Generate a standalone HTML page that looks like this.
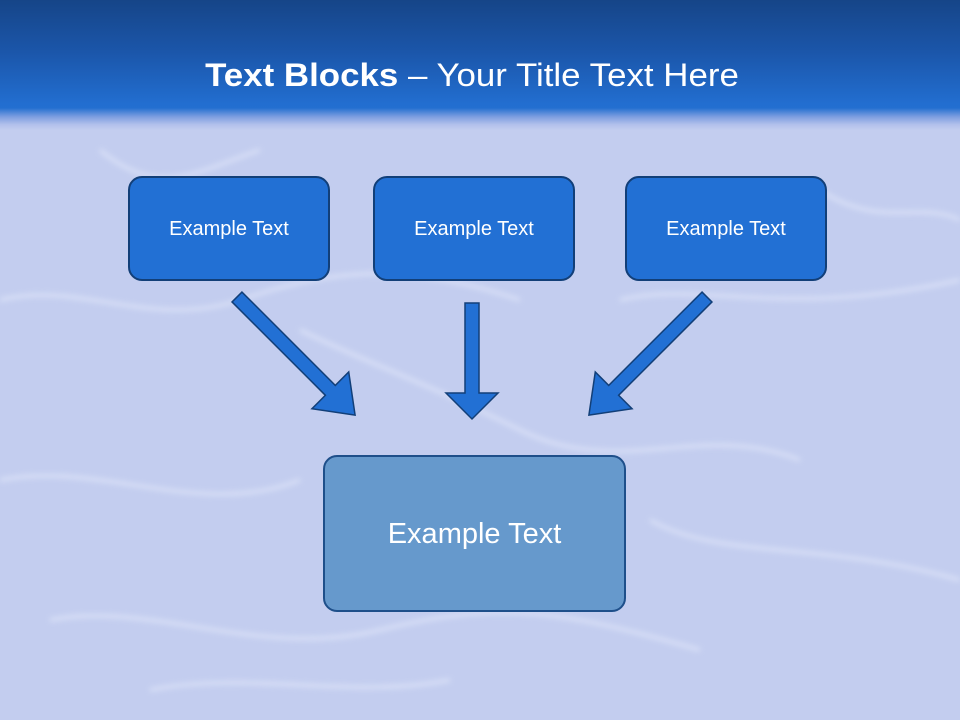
<!DOCTYPE html>
<html><head><meta charset="utf-8"><style>
html,body{margin:0;padding:0}
body{width:960px;height:720px;position:relative;overflow:hidden;font-family:"Liberation Sans",sans-serif;
background:#c3cdef;}
.hdr{position:absolute;left:0;top:0;width:960px;height:130px;
background:linear-gradient(to bottom,#164588 0%,#1b56aa 40%,#226ed0 80%,#236fd0 83%,#7f9fe0 90%,#b3c1ec 96%,#c3cdef 100%);}
.title{position:absolute;left:-8px;width:960px;top:57px;text-align:center;color:#fff;font-size:32px;white-space:nowrap;transform:scaleX(1.09);transform-origin:center}
.box{position:absolute;box-sizing:border-box;border:2px solid #123f78;border-radius:14px;background:#2270d4;color:#fff;
display:flex;align-items:center;justify-content:center;font-size:20px;padding-top:2px}
svg{position:absolute;left:0;top:0}
</style></head><body>
<svg width="960" height="720">
<defs><filter id="b"><feGaussianBlur stdDeviation="3"/></filter></defs>
<g stroke="#f2f6ff" stroke-width="3" fill="none" opacity="0.6" filter="url(#b)">
<path d="M0 300 C80 280 150 330 240 300 S400 260 520 300"/>
<path d="M300 330 C360 360 420 380 520 430 S700 420 800 460"/>
<path d="M0 480 C100 460 200 520 300 480"/>
<path d="M620 300 C700 280 780 320 960 280"/>
<path d="M50 620 C150 600 260 660 380 630 S560 610 700 650"/>
<path d="M650 520 C720 560 820 540 960 580"/>
<path d="M100 150 C160 200 200 170 260 150"/>
<path d="M820 190 C880 230 920 200 960 220"/>
<path d="M150 690 C250 670 350 700 450 680"/>
</g>
</svg>
<div class="hdr"></div>
<div class="title"><b>Text Blocks</b> – Your Title Text Here</div>
<div class="box" style="left:128px;top:176px;width:202px;height:105px">Example Text</div>
<div class="box" style="left:373px;top:176px;width:202px;height:105px">Example Text</div>
<div class="box" style="left:625px;top:176px;width:202px;height:105px">Example Text</div>
<div class="box" style="left:323px;top:455px;width:303px;height:157px;background:#6699cc;font-size:29px;border-color:#1e4f8a">Example Text</div>
<svg width="960" height="720">
<g fill="#2270d4" stroke="#123f78" stroke-width="1.5">
<polygon points="465,303 479,303 479,393 498,393 472,419 446,393 465,393"/>
<g transform="translate(237,297) rotate(-45)">
<polygon points="-7,0 7,0 7,132 26,132 0,167 -26,132 -7,132"/>
</g>
<g transform="translate(707,297) rotate(45)">
<polygon points="-7,0 7,0 7,132 26,132 0,167 -26,132 -7,132"/>
</g>
</g>
</svg>
</body></html>
